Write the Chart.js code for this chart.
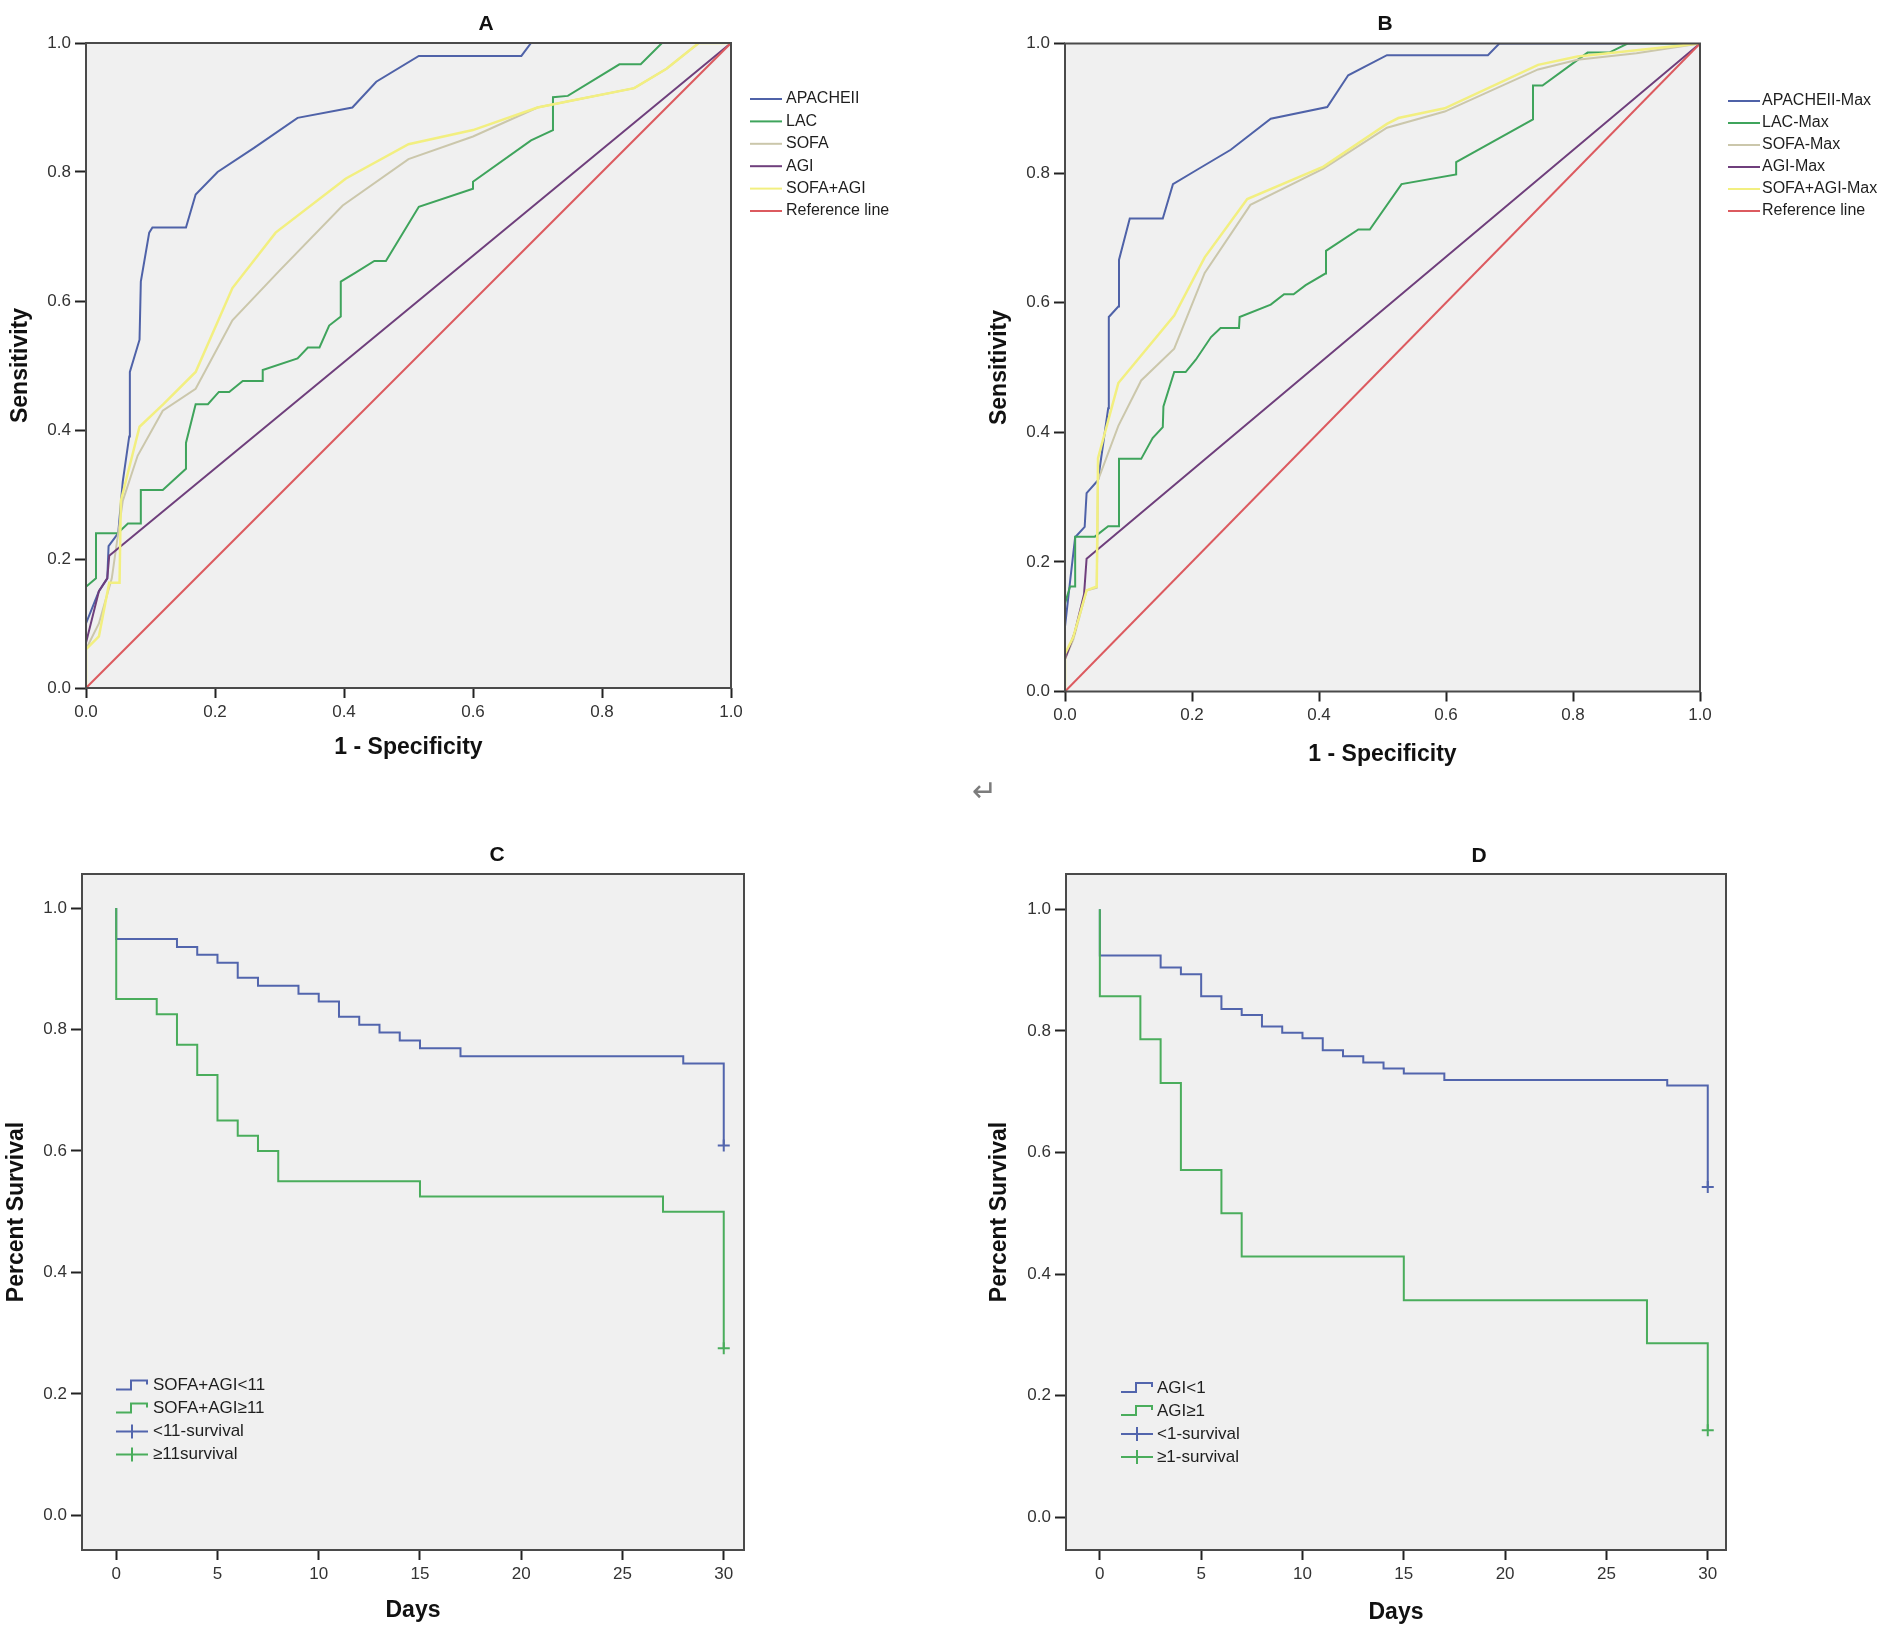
<!DOCTYPE html>
<html>
<head>
<meta charset="utf-8">
<script src="https://cdn.jsdelivr.net/npm/chart.js@4.4.1/dist/chart.umd.min.js"></script>
<style>
  body { margin: 0; width: 1902px; height: 1636px; overflow: hidden; position: relative; background: #fff; }
  canvas { position: absolute; }
  #ret { position: absolute; left: 972px; top: 774px; font: 30px "DejaVu Sans", sans-serif; line-height: 34px; color: #7c7c7c; }
</style>
</head>
<body>
<canvas id="rocA" width="972" height="790" style="left:0;top:0"></canvas>
<canvas id="rocB" width="1030" height="790" style="left:870px;top:0"></canvas>
<canvas id="kmC" width="994" height="836" style="left:0;top:800px"></canvas>
<canvas id="kmD" width="1018" height="836" style="left:970px;top:800px"></canvas>
<div id="ret">↵</div>
<script>
// tick values
const rocTicks = [0, 0.2, 0.4, 0.6, 0.8, 1.0];
const dayTicks = [0, 5, 10, 15, 20, 25, 30];
const survTicks = [0, 0.2, 0.4, 0.6, 0.8, 1.0];

// A - ROC, first day scores (1 - specificity / sensitivity)
const labelsA = ['APACHEII', 'LAC', 'SOFA', 'AGI', 'SOFA+AGI', 'Reference line'];
const apacheFprA = [0, 0, 0.02, 0.033, 0.035, 0.05, 0.057, 0.067, 0.068, 0.083, 0.085, 0.098, 0.103, 0.155, 0.17, 0.204, 0.26, 0.328, 0.413, 0.45, 0.516, 0.675, 0.69, 1];
const apacheTprA = [0, 0.10, 0.15, 0.17, 0.22, 0.24, 0.32, 0.39, 0.49, 0.54, 0.63, 0.706, 0.714, 0.714, 0.765, 0.80, 0.837, 0.884, 0.90, 0.94, 0.98, 0.98, 1, 1];
const lacFprA = [0, 0, 0.0155, 0.0155, 0.049, 0.065, 0.085, 0.085, 0.119, 0.155, 0.155, 0.17, 0.189, 0.206, 0.222, 0.243, 0.274, 0.274, 0.328, 0.344, 0.362, 0.377, 0.395, 0.395, 0.418, 0.447, 0.465, 0.516, 0.60, 0.60, 0.69, 0.724, 0.724, 0.747, 0.827, 0.86, 0.893, 1];
const lacTprA = [0, 0.157, 0.17, 0.24, 0.24, 0.255, 0.255, 0.307, 0.307, 0.34, 0.38, 0.44, 0.44, 0.459, 0.459, 0.476, 0.476, 0.493, 0.511, 0.528, 0.528, 0.562, 0.576, 0.63, 0.644, 0.662, 0.662, 0.746, 0.774, 0.785, 0.849, 0.865, 0.916, 0.918, 0.967, 0.967, 1, 1];
const sofaFprA = [0, 0, 0.02, 0.04, 0.057, 0.08, 0.119, 0.17, 0.227, 0.30, 0.398, 0.50, 0.60, 0.70, 0.75, 0.85, 0.90, 0.95, 1];
const sofaTprA = [0, 0.06, 0.10, 0.17, 0.29, 0.36, 0.43, 0.464, 0.57, 0.647, 0.748, 0.82, 0.855, 0.90, 0.91, 0.93, 0.96, 1, 1];
const agiFprA = [0, 0, 0.02, 0.033, 0.036, 1];
const agiTprA = [0, 0.07, 0.15, 0.17, 0.205, 1];
const sofaAgiFprA = [0, 0, 0.02, 0.036, 0.052, 0.054, 0.083, 0.12, 0.17, 0.227, 0.294, 0.403, 0.50, 0.60, 0.70, 0.75, 0.85, 0.90, 0.95, 1];
const sofaAgiTprA = [0, 0.06, 0.08, 0.163, 0.163, 0.29, 0.405, 0.44, 0.49, 0.62, 0.706, 0.79, 0.843, 0.865, 0.90, 0.91, 0.93, 0.96, 1, 1];
const refFpr = [0, 1];
const refTpr = [0, 1];

// B - ROC, maximum scores
const labelsB = ['APACHEII-Max', 'LAC-Max', 'SOFA-Max', 'AGI-Max', 'SOFA+AGI-Max', 'Reference line'];
const apacheFprB = [0, 0, 0.008, 0.016, 0.031, 0.034, 0.052, 0.068, 0.069, 0.084, 0.085, 0.102, 0.154, 0.17, 0.206, 0.261, 0.324, 0.413, 0.446, 0.507, 0.666, 0.684, 1];
const apacheTprB = [0, 0.10, 0.17, 0.238, 0.254, 0.306, 0.326, 0.437, 0.578, 0.594, 0.666, 0.73, 0.73, 0.783, 0.804, 0.836, 0.884, 0.902, 0.951, 0.982, 0.982, 1, 1];
const lacFprB = [0, 0, 0.008, 0.016, 0.016, 0.047, 0.068, 0.085, 0.085, 0.12, 0.138, 0.154, 0.155, 0.172, 0.19, 0.206, 0.23, 0.245, 0.274, 0.275, 0.324, 0.345, 0.36, 0.379, 0.41, 0.411, 0.462, 0.48, 0.53, 0.616, 0.616, 0.737, 0.737, 0.752, 0.823, 0.857, 0.886, 1];
const lacTprB = [0, 0.136, 0.162, 0.162, 0.239, 0.239, 0.255, 0.255, 0.359, 0.359, 0.391, 0.408, 0.44, 0.493, 0.493, 0.512, 0.547, 0.561, 0.561, 0.578, 0.597, 0.613, 0.613, 0.627, 0.645, 0.68, 0.713, 0.713, 0.783, 0.798, 0.817, 0.883, 0.935, 0.935, 0.986, 0.986, 1, 1];
const sofaFprB = [0, 0, 0.013, 0.034, 0.05, 0.052, 0.084, 0.12, 0.172, 0.22, 0.292, 0.407, 0.507, 0.598, 0.745, 0.807, 0.9, 1];
const sofaTprB = [0, 0.05, 0.08, 0.156, 0.16, 0.326, 0.41, 0.48, 0.529, 0.646, 0.751, 0.807, 0.87, 0.895, 0.96, 0.975, 0.985, 1];
const agiFprB = [0, 0, 0.015, 0.03, 0.034, 1];
const agiTprB = [0, 0.05, 0.09, 0.15, 0.205, 1];
const sofaAgiFprB = [0, 0, 0.013, 0.034, 0.05, 0.052, 0.084, 0.172, 0.22, 0.287, 0.407, 0.507, 0.525, 0.598, 0.745, 0.807, 1];
const sofaAgiTprB = [0, 0.058, 0.084, 0.156, 0.162, 0.36, 0.476, 0.58, 0.67, 0.76, 0.81, 0.876, 0.885, 0.90, 0.967, 0.98, 1];

// C - Kaplan-Meier by SOFA+AGI
const labelsC = ['SOFA+AGI<11', 'SOFA+AGI≥11', '<11-survival', '≥11survival'];
const lowDaysC = [0, 0, 3, 4, 5, 6, 7, 9, 10, 11, 12, 13, 14, 15, 17, 28, 30];
const lowSurvC = [1, 0.949, 0.936, 0.923, 0.910, 0.885, 0.872, 0.859, 0.846, 0.821, 0.808, 0.795, 0.782, 0.769, 0.756, 0.744, 0.609];
const highDaysC = [0, 0, 2, 3, 4, 5, 6, 7, 8, 15, 27, 30];
const highSurvC = [1, 0.85, 0.825, 0.775, 0.725, 0.65, 0.625, 0.60, 0.55, 0.525, 0.50, 0.275];
const censorDaysC = [30];
const censorLowC = [0.609];
const censorHighC = [0.275];

// D - Kaplan-Meier by AGI
const labelsD = ['AGI<1', 'AGI≥1', '<1-survival', '≥1-survival'];
const lowDaysD = [0, 0, 3, 4, 5, 6, 7, 8, 9, 10, 11, 12, 13, 14, 15, 17, 28, 30];
const lowSurvD = [1, 0.924, 0.904, 0.893, 0.857, 0.836, 0.826, 0.807, 0.797, 0.788, 0.768, 0.758, 0.748, 0.738, 0.730, 0.719, 0.710, 0.543];
const highDaysD = [0, 0, 2, 3, 4, 6, 7, 15, 27, 30];
const highSurvD = [1, 0.857, 0.786, 0.714, 0.571, 0.5, 0.429, 0.357, 0.286, 0.143];
const censorDaysD = [30];
const censorLowD = [0.543];
const censorHighD = [0.143];

const FONT = '"Liberation Sans", Arial, sans-serif';
Chart.defaults.font.family = FONT;

const rocColors = ['#4f62a8', '#3fa45c', '#cbc7ab', '#6f3f7c', '#f2ef80', '#dc5a5f'];
const kmBlue = '#5265ad';
const kmGreen = '#4aad5c';

const pts = (xs, ys) => xs.map((x, i) => ({ x, y: ys[i] }));

// grey plot background, frame, and the SPSS style legend
const spssPanel = {
  id: 'spssPanel',
  beforeDatasetsDraw(chart) {
    const { ctx, chartArea: a } = chart;
    ctx.save();
    ctx.fillStyle = '#f0f0f0';
    ctx.fillRect(a.left, a.top, a.width, a.height);
    ctx.restore();
  },
  afterDatasetsDraw(chart, args, opts) {
    const { ctx, chartArea: a } = chart;
    ctx.save();
    ctx.strokeStyle = '#4a4a4a';
    ctx.lineWidth = 2;
    ctx.strokeRect(a.left, a.top, a.width, a.height);

    const x0 = opts.side === 'right' ? a.right + opts.dx : a.left + opts.dx;
    let y = a.top + opts.dy;
    ctx.font = opts.size + 'px ' + FONT;
    ctx.textBaseline = 'middle';
    chart.data.datasets.forEach(ds => {
      ctx.strokeStyle = ds.borderColor;
      ctx.lineWidth = 2;
      ctx.beginPath();
      if (ds.stepped) {
        ctx.moveTo(x0, y + 4);
        ctx.lineTo(x0 + 15, y + 4);
        ctx.lineTo(x0 + 15, y - 5);
        ctx.lineTo(x0 + 31, y - 5);
        ctx.lineTo(x0 + 31, y - 1);
      } else if (ds.showLine === false) {
        ctx.moveTo(x0, y);
        ctx.lineTo(x0 + 32, y);
        ctx.moveTo(x0 + 16, y - 7);
        ctx.lineTo(x0 + 16, y + 7);
      } else {
        ctx.moveTo(x0, y);
        ctx.lineTo(x0 + 32, y);
      }
      ctx.stroke();
      ctx.fillStyle = '#1e1e1e';
      ctx.fillText(ds.label, x0 + opts.textGap, y);
      y += opts.row;
    });
    ctx.restore();
  }
};

function panel(id, datasets, o) {
  datasets.forEach((d, i) => { d.order = datasets.length - i; });
  const tickFont = { size: 17 };
  const titleFont = { size: 23, weight: 'bold' };
  return new Chart(document.getElementById(id), {
    type: 'line',
    data: { datasets },
    options: {
      responsive: false,
      animation: false,
      layout: { padding: 0 },
      elements: { point: { radius: 0 }, line: { tension: 0, borderWidth: 2 } },
      plugins: {
        legend: { display: false },
        tooltip: { enabled: false },
        title: {
          display: true, text: o.title, color: '#111',
          font: { size: 21, weight: 'bold' },
          padding: { top: o.titleTop, bottom: o.titleBottom }
        },
        spssPanel: o.legend
      },
      scales: {
        x: {
          type: 'linear', min: o.xMin, max: o.xMax,
          afterFit: s => { s.height = o.xHeight; },
          afterBuildTicks: s => { s.ticks = o.xTicks.map(v => ({ value: v })); },
          grid: { drawOnChartArea: false, drawTicks: true, tickLength: 10, tickColor: '#222', tickWidth: 2 },
          border: { display: false },
          ticks: { color: '#333', font: tickFont, padding: 4, maxRotation: 0, autoSkip: false, callback: o.xFmt },
          title: { display: true, text: o.xTitle, color: '#111', font: titleFont, padding: { top: 0, bottom: o.xTitlePad } }
        },
        y: {
          type: 'linear', min: o.yMin, max: o.yMax,
          afterFit: s => { s.width = o.yWidth; },
          afterBuildTicks: s => { s.ticks = o.yTicks.map(v => ({ value: v })); },
          grid: { drawOnChartArea: false, drawTicks: true, tickLength: 11, tickColor: '#222', tickWidth: 2 },
          border: { display: false },
          ticks: { color: '#333', font: tickFont, padding: 4, autoSkip: false, callback: v => v.toFixed(1) },
          title: { display: true, text: o.yTitle, color: '#111', font: titleFont, padding: { top: o.yTitlePad, bottom: 0 } }
        },
        room: {
          type: 'linear', position: 'right',
          afterFit: s => { s.width = o.roomWidth; },
          grid: { display: false }, border: { display: false }, ticks: { display: false }
        }
      }
    },
    plugins: [spssPanel]
  });
}

function rocSets(labels, series) {
  return series.map((s, i) => ({
    label: labels[i], data: pts(s[0], s[1]),
    borderColor: rocColors[i], borderWidth: i === 4 ? 2.5 : 2
  }));
}

function kmSets(labels, low, high, censorDays, censorLow, censorHigh) {
  return [
    { label: labels[0], data: pts(low[0], low[1]), stepped: true, borderColor: kmBlue },
    { label: labels[1], data: pts(high[0], high[1]), stepped: true, borderColor: kmGreen },
    { label: labels[2], data: pts(censorDays, censorLow), showLine: false, borderColor: kmBlue,
      pointStyle: 'cross', pointRadius: 6, pointBorderWidth: 2 },
    { label: labels[3], data: pts(censorDays, censorHigh), showLine: false, borderColor: kmGreen,
      pointStyle: 'cross', pointRadius: 6, pointBorderWidth: 2 }
  ];
}

const fmt1 = v => v.toFixed(1);
const fmt0 = v => String(v);

panel('rocA', rocSets(labelsA, [
  [apacheFprA, apacheTprA], [lacFprA, lacTprA], [sofaFprA, sofaTprA],
  [agiFprA, agiTprA], [sofaAgiFprA, sofaAgiTprA], [refFpr, refTpr]
]), {
  title: 'A', titleTop: 11.4, titleBottom: 6.4,
  xMin: 0, xMax: 1, yMin: 0, yMax: 1, xTicks: rocTicks, yTicks: rocTicks, xFmt: fmt1,
  xTitle: '1 - Specificity', yTitle: 'Sensitivity',
  xHeight: 102, xTitlePad: 28.2, yWidth: 86, yTitlePad: 7.2, roomWidth: 241,
  legend: { side: 'right', dx: 19, dy: 56, row: 22.4, size: 16, textGap: 36 }
});

panel('rocB', rocSets(labelsB, [
  [apacheFprB, apacheTprB], [lacFprB, lacTprB], [sofaFprB, sofaTprB],
  [agiFprB, agiTprB], [sofaAgiFprB, sofaAgiTprB], [refFpr, refTpr]
]), {
  title: 'B', titleTop: 11.4, titleBottom: 6.9,
  xMin: 0, xMax: 1, yMin: 0, yMax: 1, xTicks: rocTicks, yTicks: rocTicks, xFmt: fmt1,
  xTitle: '1 - Specificity', yTitle: 'Sensitivity',
  xHeight: 98.5, xTitlePad: 21.2, yWidth: 195, yTitlePad: 116.2, roomWidth: 200,
  legend: { side: 'right', dx: 28, dy: 57.5, row: 22, size: 16, textGap: 34 }
});

panel('kmC', kmSets(labelsC, [lowDaysC, lowSurvC], [highDaysC, highSurvC], censorDaysC, censorLowC, censorHighC), {
  title: 'C', titleTop: 42.4, titleBottom: 6.4,
  xMin: -1.69, xMax: 31.0, yMin: -0.057, yMax: 1.056, xTicks: dayTicks, yTicks: survTicks, xFmt: fmt0,
  xTitle: 'Days', yTitle: 'Percent Survival',
  xHeight: 86, xTitlePad: 11.2, yWidth: 82, yTitlePad: 3.2, roomWidth: 250,
  legend: { side: 'left', dx: 34, dy: 511.6, row: 23, size: 17, textGap: 37 }
});

panel('kmD', kmSets(labelsD, [lowDaysD, lowSurvD], [highDaysD, highSurvD], censorDaysD, censorLowD, censorHighD), {
  title: 'D', titleTop: 43.4, titleBottom: 5.4,
  xMin: -1.67, xMax: 30.9, yMin: -0.054, yMax: 1.058, xTicks: dayTicks, yTicks: survTicks, xFmt: fmt0,
  xTitle: 'Days', yTitle: 'Percent Survival',
  xHeight: 86, xTitlePad: 9.2, yWidth: 96, yTitlePad: 16.2, roomWidth: 262,
  legend: { side: 'left', dx: 55, dy: 514, row: 23, size: 17, textGap: 36 }
});
</script>
</body>
</html>
